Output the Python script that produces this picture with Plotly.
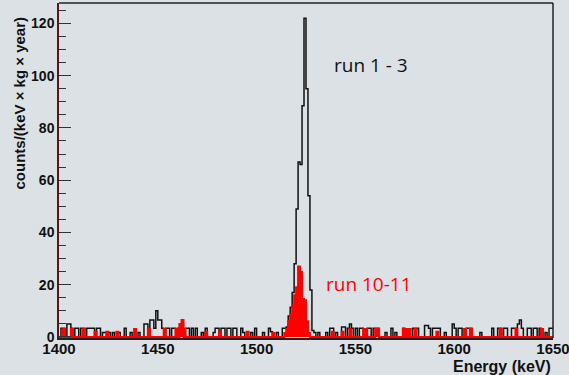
import plotly.graph_objects as go

# Histogram binning: 1 keV bins from 1400 to 1650 keV (left edges)
E_MIN, E_MAX = 1400, 1650

# run 1 - 3 : non-empty bins (left edge keV, counts/(keV kg year))
run13_edges = [
    1401, 1402, 1404, 1405, 1406, 1408, 1409, 1411, 1412, 1414, 1415, 1416,
    1417, 1419, 1420, 1422, 1423, 1425, 1427, 1430, 1433, 1436, 1440, 1443,
    1444, 1446, 1447, 1448, 1449, 1450, 1451, 1452, 1454, 1455, 1457, 1458,
    1460, 1461, 1462, 1464, 1465, 1467, 1469, 1472, 1474, 1478, 1479, 1480,
    1482, 1483, 1485, 1486, 1488, 1489, 1492, 1493, 1497, 1499, 1503, 1506,
    1507, 1510, 1513, 1514, 1515, 1516, 1517, 1518, 1519, 1520, 1521, 1522,
    1523, 1524, 1525, 1526, 1527, 1528, 1529, 1531, 1535, 1537, 1538, 1540,
    1543, 1544, 1546, 1547, 1548, 1550, 1552, 1553, 1556, 1557, 1559, 1560,
    1561, 1565, 1568, 1570, 1574, 1579, 1580, 1581, 1585, 1586, 1587, 1589,
    1590, 1591, 1592, 1595, 1599, 1600, 1602, 1603, 1606, 1607, 1608, 1613,
    1619, 1622, 1623, 1625, 1626, 1629, 1630, 1631, 1632, 1633, 1634, 1637,
    1638, 1640, 1641, 1643, 1646, 1648, 1649,
]
run13_vals = [
    3.3, 3.3, 5.0, 5.0, 3.3, 3.3, 3.3, 3.3, 3.3, 3.3, 3.3, 3.3,
    3.3, 3.3, 3.3, 1.7, 1.7, 1.7, 1.7, 1.7, 3.3, 1.7, 1.7, 5.0,
    5.0, 6.5, 6.5, 3.3, 10.0, 6.5, 6.5, 3.3, 3.3, 3.3, 3.3, 3.3,
    3.3, 5.0, 5.0, 3.3, 3.3, 3.3, 3.3, 1.7, 3.3, 1.7, 3.3, 3.3,
    3.3, 3.3, 3.3, 3.3, 3.3, 3.3, 3.3, 1.7, 1.7, 3.3, 1.7, 3.3,
    2.0, 1.7, 3.3, 3.3, 3.8, 8.0, 11.4, 17.0, 28.0, 49.0, 67.0, 66.0,
    88.5, 122.0, 95.0, 54.0, 18.0, 2.5, 1.7, 1.7, 1.7, 3.3, 3.3, 1.7,
    3.8, 3.8, 3.3, 5.0, 3.3, 3.3, 3.3, 3.3, 3.3, 3.3, 3.3, 3.3,
    3.3, 1.7, 3.3, 1.7, 3.3, 3.3, 3.3, 3.3, 4.4, 4.4, 3.3, 3.3,
    3.3, 3.3, 3.3, 1.7, 5.0, 3.3, 3.3, 3.3, 3.3, 3.3, 3.3, 1.7,
    3.3, 3.3, 3.3, 3.3, 3.3, 3.3, 3.3, 3.3, 5.0, 6.5, 3.3, 3.3,
    3.3, 3.3, 3.3, 3.3, 1.7, 3.3, 3.3,
]

# run 10-11 : non-empty bins
run1011_edges = [
    1402, 1406, 1412, 1418, 1424, 1429, 1438, 1445,
    1453, 1459, 1461, 1462, 1463, 1474, 1481, 1495, 1508,
    1514, 1515, 1516, 1517, 1518, 1519, 1520, 1521, 1522, 1523, 1524, 1525,
    1526, 1538, 1543, 1547, 1554, 1555, 1560, 1561, 1574, 1576,
    1577, 1580, 1591, 1605, 1608, 1623, 1631, 1644,
]
run1011_vals = [
    3.0, 3.0, 3.0, 2.0, 2.0, 2.0, 3.0, 3.0,
    3.0, 3.0, 5.0, 6.5, 3.0, 2.0, 2.0, 2.0, 1.5,
    1.5, 3.0, 6.0, 8.8, 12.0, 16.0, 19.0, 27.0, 25.0, 14.5, 14.0, 6.0,
    1.5, 2.0, 2.0, 3.0, 3.0, 3.0, 3.0, 3.0, 3.0, 3.0,
    3.0, 3.0, 2.0, 3.0, 3.0, 3.0, 3.0, 3.0,
]

x_ticks = [1400, 1450, 1500, 1550, 1600, 1650]
y_ticks = [0, 20, 40, 60, 80, 100, 120]

BG = "#dce1e5"


def step_outline(edges, vals):
    """Full binned contents -> (x, y) for an 'hv' stepped outline."""
    lookup = dict(zip(edges, vals))
    bins = list(range(E_MIN, E_MAX))
    contents = [lookup.get(b, 0.0) for b in bins]
    xs = [E_MIN] + bins + [E_MAX]
    ys = [0.0] + contents + [contents[-1]]
    return xs, ys


bx, by = step_outline(run13_edges, run13_vals)
rx, ry = step_outline(run1011_edges, run1011_vals)

fig = go.Figure()
fig.add_trace(go.Scatter(
    x=bx, y=by, mode="lines", line=dict(shape="hv", color="#111111", width=1.5),
    hoverinfo="skip", showlegend=False,
))
fig.add_trace(go.Scatter(
    x=rx, y=ry, mode="lines", line=dict(shape="hv", color="#ff0000", width=2),
    fill="tozeroy", fillcolor="#ff0000", hoverinfo="skip", showlegend=False,
))

fig.add_annotation(x=1538, y=104, xref="x", yref="y", text="run 1 - 3",
                   showarrow=False, xanchor="left", yanchor="middle",
                   font=dict(family="Open Sans", size=19, color="#111111"))
fig.add_annotation(x=1534, y=20.3, xref="x", yref="y", text="run 10-11",
                   showarrow=False, xanchor="left", yanchor="middle",
                   font=dict(family="Open Sans", size=19, color="#ff0000"))

# axis titles, ROOT style (right/top aligned)
fig.add_annotation(x=-0.079, y=0.967, xref="paper", yref="paper",
                   text="<b>counts/(keV × kg × year)</b>", textangle=-90,
                   showarrow=False, xanchor="center", yanchor="top",
                   font=dict(family="Liberation Sans", size=15, color="#111111"))
fig.add_annotation(x=1.0, y=-0.085, xref="paper", yref="paper",
                   text="<b>Energy (keV)</b>", showarrow=False,
                   xanchor="right", yanchor="middle",
                   font=dict(family="Liberation Sans", size=16, color="#111111"))

# right and top edges of the frame
fig.add_shape(type="line", xref="paper", yref="paper", x0=1, x1=1, y0=0, y1=1,
              line=dict(color="#222222", width=1.5))
fig.add_shape(type="line", xref="paper", yref="paper", x0=0, x1=1, y0=1, y1=1,
              line=dict(color="#222222", width=1.5))

fig.update_layout(
    width=569, height=375,
    margin=dict(l=59, r=16, t=3, b=37),
    paper_bgcolor=BG, plot_bgcolor=BG,
    showlegend=False,
)
fig.update_xaxes(
    range=[E_MIN, E_MAX + 0.01], tickvals=x_ticks,
    ticktext=[f"<b>{v}</b>" for v in x_ticks],
    tickfont=dict(family="Liberation Sans", size=15, color="#111111"),
    showgrid=False, zeroline=False,
    showline=True, linecolor="#222222", linewidth=1.5, mirror=False,
    ticks="", ticklabelstandoff=-4, ticklabeloverflow="allow", automargin=False,
)
fig.update_yaxes(
    range=[-0.4, 127.8], tickvals=y_ticks,
    ticktext=[f"<b>{v}</b>" for v in y_ticks],
    tickfont=dict(family="Liberation Sans", size=14, color="#111111"),
    showgrid=False, zeroline=False,
    showline=True, linecolor="#5a1418", linewidth=1.5, mirror=False,
    ticks="inside", ticklen=12, tickwidth=1, tickcolor="#333333",
    minor=dict(dtick=5, ticks="inside", ticklen=7, tickwidth=1, tickcolor="#333333"),
    ticklabelstandoff=0, automargin=False,
)

fig.write_html("out.html")
